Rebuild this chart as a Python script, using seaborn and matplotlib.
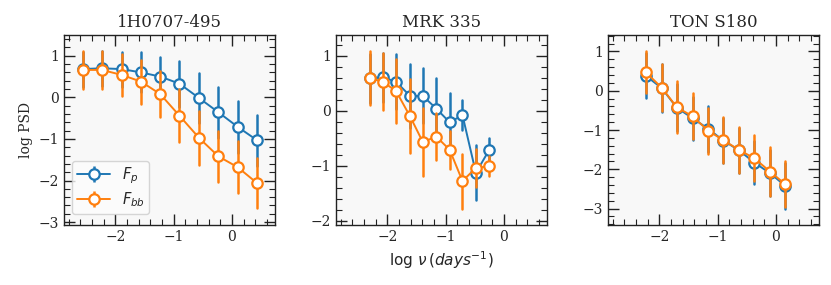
import numpy as np
import pandas as pd
import matplotlib
matplotlib.use("Agg")
import matplotlib.pyplot as plt
from matplotlib.lines import Line2D
from matplotlib.ticker import AutoMinorLocator, MultipleLocator
import seaborn as sns

# ---------------- data ----------------
titles = ["1H0707-495", "MRK 335", "TON S180"]
series_labels = [r"$F_p$", r"$F_{bb}$"]

x_1h = [-2.56, -2.23, -1.89, -1.56, -1.23, -0.90, -0.56, -0.23, 0.10, 0.43]
fp_1h = [0.68, 0.70, 0.68, 0.60, 0.50, 0.33, -0.02, -0.36, -0.71, -1.03]
fp_err_1h = [0.42, 0.42, 0.42, 0.48, 0.48, 0.55, 0.60, 0.62, 0.63, 0.61]
fbb_1h = [0.66, 0.66, 0.54, 0.38, 0.08, -0.44, -0.98, -1.42, -1.68, -2.06]
fbb_err_1h = [0.46, 0.46, 0.50, 0.53, 0.56, 0.63, 0.64, 0.61, 0.62, 0.60]

x_mrk = [-2.29, -2.08, -1.85, -1.61, -1.39, -1.16, -0.93, -0.71, -0.48, -0.25]
fp_mrk = [0.59, 0.61, 0.53, 0.27, 0.27, 0.04, -0.21, -0.08, -1.13, -0.71]
fp_err_mrk = [0.45, 0.45, 0.50, 0.58, 0.50, 0.55, 0.53, 0.27, 0.50, 0.21]
fbb_mrk = [0.59, 0.53, 0.36, -0.10, -0.57, -0.47, -0.71, -1.28, -1.04, -1.01]
fbb_err_mrk = [0.49, 0.52, 0.58, 0.67, 0.62, 0.43, 0.35, 0.50, 0.35, 0.18]

x_ton = [-2.23, -1.96, -1.70, -1.43, -1.16, -0.90, -0.63, -0.37, -0.10, 0.16]
fp_ton = [0.38, 0.07, -0.43, -0.70, -0.97, -1.27, -1.52, -1.83, -2.10, -2.42]
fp_err_ton = [0.57, 0.62, 0.60, 0.55, 0.58, 0.58, 0.58, 0.55, 0.58, 0.58]
fbb_ton = [0.47, 0.08, -0.42, -0.65, -1.02, -1.26, -1.51, -1.72, -2.06, -2.38]
fbb_err_ton = [0.53, 0.60, 0.66, 0.58, 0.59, 0.58, 0.59, 0.58, 0.62, 0.58]

panels = [
    (x_1h, fp_1h, fp_err_1h, fbb_1h, fbb_err_1h),
    (x_mrk, fp_mrk, fp_err_mrk, fbb_mrk, fbb_err_mrk),
    (x_ton, fp_ton, fp_err_ton, fbb_ton, fbb_err_ton),
]
ylims = [(-3.07, 1.50), (-2.08, 1.38), (-3.42, 1.42)]
xlim = (-2.88, 0.74)

# ---------------- style ----------------
sns.set_style("ticks", {"axes.facecolor": "#f8f8f8", "axes.edgecolor": "#222222"})
plt.rcParams["font.family"] = ["DejaVu Serif"]
plt.rcParams["mathtext.fontset"] = "dejavusans"
plt.rcParams["xtick.direction"] = "in"
plt.rcParams["ytick.direction"] = "in"

palette = sns.color_palette("tab10")
colors = [palette[0], palette[1]]

fig = plt.figure(figsize=(8.31, 2.85), dpi=100)
lefts = [64 / 831, 336 / 831, 608 / 831]
w = 211 / 831
bottom = 60 / 285
h = 190 / 285

for i, (xs, fp, fpe, fbb, fbbe) in enumerate(panels):
    ax = fig.add_axes([lefts[i], bottom, w, h])
    for j, (ys, es) in enumerate([(fp, fpe), (fbb, fbbe)]):
        ys = np.asarray(ys)
        es = np.asarray(es)
        df = pd.DataFrame({
            "x": np.concatenate([xs, xs]),
            "y": np.concatenate([ys - es, ys + es]),
        })
        sns.lineplot(
            data=df, x="x", y="y", ax=ax, estimator="mean",
            errorbar=lambda v: (v.min(), v.max()), err_style="bars",
            err_kws={"elinewidth": 1.8, "zorder": 2 + 2 * j, "capsize": 0},
            color=colors[j], marker="o", markersize=7.5,
            markerfacecolor="white", markeredgecolor=colors[j],
            markeredgewidth=1.6, linewidth=1.4, zorder=3 + 2 * j,
            legend=False,
        )
    ax.set_xlim(*xlim)
    ax.set_ylim(*ylims[i])
    ax.xaxis.set_major_locator(MultipleLocator(1))
    ax.yaxis.set_major_locator(MultipleLocator(1))
    ax.xaxis.set_minor_locator(AutoMinorLocator())
    ax.yaxis.set_minor_locator(AutoMinorLocator())
    ax.tick_params(which="both", direction="in", top=True, right=True,
                   labelsize=10, color="#222222")
    ax.tick_params(which="major", length=8, width=1)
    ax.tick_params(which="minor", length=4, width=0.8)
    for sp in ax.spines.values():
        sp.set_linewidth(1.0)
    ax.set_title(titles[i], fontsize=12, pad=6)
    ax.set_xlabel("")
    ax.set_ylabel("")
    if i == 0:
        ax.set_ylabel("log PSD", fontsize=10)
        handles = []
        for j in range(2):
            bar = Line2D([], [], color=colors[j], marker="|", markersize=12,
                         markeredgewidth=1.8, linestyle="")
            ln = Line2D([], [], color=colors[j], marker="o", markersize=7.5,
                        markerfacecolor="white", markeredgecolor=colors[j],
                        markeredgewidth=1.6, linewidth=1.4)
            handles.append((bar, ln))
        ax.legend(handles, series_labels, loc="lower left",
                  bbox_to_anchor=(0.04, 0.06), borderaxespad=0,
                  fontsize=10.5, frameon=True, facecolor="#fcfcfc",
                  edgecolor="#cccccc", handlelength=2.3, borderpad=0.3,
                  labelspacing=0.3, handletextpad=0.8)
    if i == 1:
        ax.set_xlabel(r"$\log\,\nu\,(days^{-1})$", fontsize=11)

fig.savefig("out.png", dpi=100)
